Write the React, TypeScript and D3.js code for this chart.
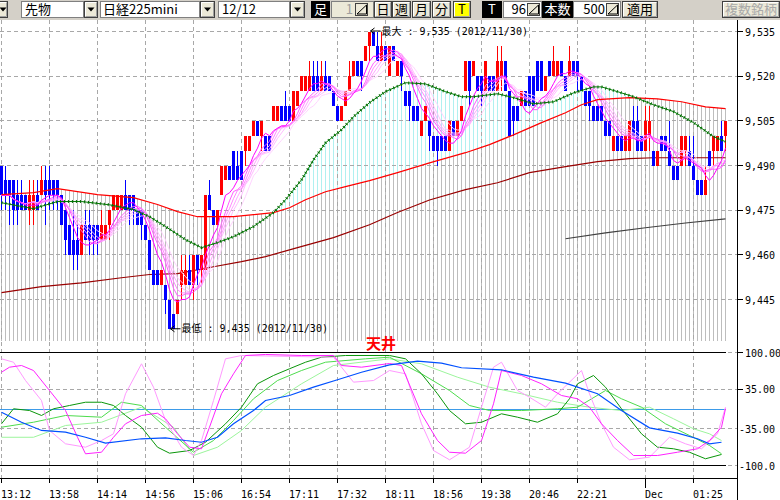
import React from "react";
import * as d3 from "d3";

// tick bars (96 ticks per bar)
const opens = [
  9490, 9485, 9485, 9485, 9480, 9480, 9480, 9475, 9475, 9480,
  9480, 9485, 9485, 9485, 9485, 9480, 9475, 9470, 9465, 9465,
  9460, 9470, 9470, 9470, 9470, 9465, 9465, 9470, 9475, 9475,
  9475, 9480, 9480, 9480, 9475, 9475, 9470, 9465, 9455, 9455,
  9450, 9450, 9445, 9440, 9440, 9450, 9450, 9455, 9450, 9460,
  9455, 9455, 9480, 9475, 9470, 9480, 9485, 9490, 9495, 9490,
  9495, 9495, 9495, 9500, 9505, 9500, 9500, 9500, 9505, 9505,
  9510, 9510, 9510, 9505, 9510, 9515, 9515, 9515, 9520, 9520,
  9515, 9520, 9520, 9515, 9510, 9505, 9510, 9515, 9520, 9525,
  9525, 9525, 9530, 9535, 9530, 9525, 9530, 9520, 9530, 9520,
  9525, 9515, 9515, 9510, 9510, 9500, 9505, 9505, 9500, 9500,
  9500, 9500, 9495, 9505, 9500, 9505, 9515, 9525, 9520, 9520,
  9520, 9515, 9520, 9520, 9515, 9520, 9525, 9515, 9510, 9510,
  9510, 9515, 9520, 9520, 9525, 9525, 9515, 9525, 9520, 9520,
  9525, 9520, 9520, 9525, 9525, 9520, 9515, 9515, 9510, 9510,
  9510, 9505, 9505, 9495, 9500, 9500, 9495, 9495, 9505, 9505,
  9500, 9495, 9500, 9495, 9490, 9500, 9500, 9495, 9490, 9490,
  9490, 9495, 9495, 9490, 9485, 9485, 9480, 9495, 9495, 9495,
  9500, 9500,
];
const closes = [
  9480, 9480, 9480, 9475, 9475, 9475, 9475, 9480, 9480, 9475,
  9485, 9480, 9480, 9480, 9480, 9470, 9465, 9460, 9460, 9460,
  9470, 9465, 9465, 9465, 9465, 9470, 9470, 9475, 9480, 9480,
  9480, 9475, 9475, 9475, 9470, 9470, 9465, 9455, 9450, 9450,
  9455, 9445, 9435, 9435, 9445, 9455, 9455, 9450, 9460, 9455,
  9460, 9480, 9475, 9470, 9475, 9490, 9490, 9485, 9485, 9485,
  9485, 9500, 9500, 9505, 9500, 9505, 9495, 9495, 9510, 9510,
  9505, 9505, 9505, 9515, 9515, 9520, 9520, 9520, 9515, 9515,
  9520, 9515, 9515, 9510, 9505, 9510, 9515, 9520, 9525, 9520,
  9520, 9530, 9535, 9530, 9525, 9530, 9525, 9530, 9525, 9525,
  9520, 9510, 9510, 9505, 9505, 9505, 9510, 9500, 9495, 9495,
  9495, 9495, 9505, 9500, 9505, 9510, 9525, 9515, 9525, 9515,
  9515, 9525, 9515, 9515, 9525, 9525, 9515, 9500, 9505, 9505,
  9515, 9510, 9510, 9510, 9515, 9515, 9520, 9520, 9525, 9525,
  9520, 9515, 9525, 9520, 9520, 9515, 9510, 9510, 9505, 9505,
  9505, 9500, 9500, 9500, 9495, 9495, 9500, 9505, 9500, 9495,
  9495, 9505, 9505, 9490, 9495, 9495, 9495, 9490, 9485, 9485,
  9500, 9500, 9490, 9485, 9480, 9480, 9485, 9490, 9500, 9500,
  9495, 9505,
];
const highs = [
  9490, 9490, 9485, 9485, 9485, 9485, 9480, 9485, 9485, 9485,
  9490, 9490, 9490, 9485, 9485, 9480, 9475, 9470, 9475, 9470,
  9470, 9475, 9475, 9470, 9470, 9475, 9470, 9475, 9480, 9480,
  9480, 9485, 9480, 9480, 9475, 9475, 9470, 9465, 9455, 9455,
  9455, 9450, 9445, 9440, 9445, 9460, 9460, 9460, 9460, 9460,
  9460, 9480, 9485, 9475, 9475, 9490, 9490, 9490, 9495, 9495,
  9495, 9500, 9500, 9505, 9505, 9505, 9500, 9500, 9510, 9510,
  9510, 9515, 9510, 9515, 9515, 9520, 9520, 9525, 9525, 9525,
  9525, 9525, 9520, 9515, 9510, 9510, 9515, 9525, 9525, 9525,
  9525, 9530, 9535, 9535, 9535, 9535, 9530, 9530, 9530, 9525,
  9525, 9515, 9515, 9510, 9510, 9505, 9510, 9505, 9500, 9500,
  9500, 9500, 9505, 9505, 9505, 9510, 9525, 9525, 9525, 9520,
  9520, 9525, 9520, 9520, 9530, 9530, 9525, 9515, 9510, 9510,
  9515, 9515, 9520, 9520, 9525, 9525, 9520, 9525, 9530, 9525,
  9525, 9520, 9530, 9525, 9525, 9520, 9515, 9515, 9510, 9510,
  9510, 9505, 9505, 9500, 9500, 9500, 9500, 9505, 9510, 9510,
  9500, 9510, 9510, 9495, 9495, 9500, 9500, 9505, 9490, 9490,
  9500, 9500, 9500, 9500, 9485, 9485, 9490, 9495, 9500, 9500,
  9505, 9505,
];
const lows = [
  9475, 9475, 9470, 9470, 9470, 9475, 9475, 9470, 9470, 9475,
  9480, 9470, 9475, 9475, 9475, 9470, 9460, 9460, 9455, 9455,
  9460, 9465, 9460, 9460, 9460, 9465, 9465, 9465, 9475, 9475,
  9475, 9475, 9470, 9470, 9470, 9465, 9465, 9455, 9450, 9450,
  9450, 9440, 9435, 9435, 9440, 9445, 9450, 9450, 9445, 9450,
  9450, 9455, 9475, 9470, 9470, 9480, 9485, 9485, 9485, 9485,
  9485, 9490, 9495, 9500, 9500, 9495, 9495, 9495, 9505, 9505,
  9505, 9505, 9505, 9505, 9510, 9515, 9515, 9515, 9515, 9515,
  9515, 9515, 9515, 9510, 9505, 9505, 9510, 9515, 9520, 9520,
  9515, 9525, 9525, 9530, 9525, 9525, 9525, 9520, 9525, 9520,
  9515, 9510, 9505, 9505, 9505, 9500, 9505, 9495, 9495, 9490,
  9495, 9495, 9495, 9500, 9500, 9505, 9515, 9510, 9520, 9515,
  9510, 9515, 9515, 9515, 9515, 9515, 9515, 9500, 9500, 9505,
  9510, 9510, 9510, 9510, 9515, 9515, 9515, 9520, 9520, 9520,
  9520, 9515, 9520, 9520, 9515, 9515, 9510, 9505, 9505, 9505,
  9505, 9500, 9500, 9495, 9495, 9495, 9495, 9495, 9500, 9495,
  9495, 9495, 9495, 9490, 9490, 9495, 9495, 9490, 9485, 9485,
  9490, 9490, 9490, 9485, 9480, 9480, 9480, 9490, 9490, 9495,
  9495, 9495,
];

// moving averages: [bar index, price]
const midMa: [number, number][] = [
  [0, 9480.2], [8, 9480.9], [14, 9482.2], [24, 9480.2], [33, 9479.2], [39, 9476.9],
  [44, 9474.5], [49, 9472.8], [58, 9472.8], [63, 9473.5], [68, 9474.2], [72, 9475.8],
  [76, 9478.5], [81, 9481.2], [86, 9482.9], [92, 9484.9], [99, 9487.6], [107, 9490.9],
  [116, 9494.3], [122, 9497.0], [128, 9500.3], [135, 9504.4], [141, 9507.7], [145, 9510.4],
  [149, 9512.1], [157, 9512.8], [164, 9512.4], [170, 9511.4], [176, 9509.7], [181, 9509.1],
];
const longMa: [number, number][] = [
  [0, 9447.3], [10, 9449.3], [20, 9450.6], [30, 9452.3], [37, 9453.4], [44, 9453.7],
  [53, 9456.0], [60, 9457.7], [66, 9459.4], [74, 9462.4], [83, 9465.8], [92, 9470.1],
  [99, 9474.2], [107, 9478.4], [116, 9481.9], [124, 9484.2], [132, 9487.6], [141, 9489.6],
  [149, 9491.3], [157, 9492.3], [163, 9492.6], [181, 9492.6],
];
const extraMa: [number, number][] = [
  [141, 9465.4], [151, 9467.4], [161, 9469.1], [171, 9470.7], [181, 9472.1],
];
const greenMa: [number, number][] = [
  [0, 9477.5], [8, 9475.5], [14, 9477.9], [20, 9477.9], [27, 9476.8], [33, 9475.2],
  [37, 9472.8], [41, 9469.5], [46, 9465.1], [50, 9462.4], [54, 9464.1], [58, 9466.1],
  [63, 9469.5], [68, 9474.2], [71, 9478.5], [75, 9485.2], [78, 9491.9], [81, 9497.6],
  [85, 9502.0], [88, 9506.4], [92, 9511.1], [96, 9514.8], [101, 9517.8], [106, 9517.4],
  [111, 9514.8], [115, 9513.1], [118, 9513.1], [124, 9514.1], [128, 9512.8], [133, 9510.7],
  [138, 9511.4], [143, 9514.4], [148, 9516.4], [150, 9516.4], [154, 9514.8], [158, 9513.1],
  [163, 9510.4], [168, 9508.1], [173, 9504.4], [178, 9499.7], [181, 9498.0],
];

// short moving-average ribbon (periods of the pink lines, slowest first)
const ribbonPeriods = [13, 11, 10, 9, 8, 6];

// oscillator panel: [bar index, value]
const oscBlue: [number, number][] = [
  [0, -5.7], [5, -23.4], [10, -38], [16, -41], [21, -50], [26, -60.5], [35, -52.7],
  [41, -51], [46, -55.8], [50, -58.8], [54, -50], [58, -26.2], [63, -2.7], [66, 15],
  [72, 23.9], [78, 38.6], [84, 51.7], [90, 65.1], [97, 78.2], [104, 84.6], [110, 81.1],
  [115, 73], [125, 69.4], [133, 56.3], [141, 45.7], [149, 26.9], [155, -2.7],
  [162, -33.3], [169, -42.8], [174, -52.7], [177, -61.6], [180, -58.8],
];
const oscGreen: [number, number][] = [
  [0, -26.2], [3, 0.4], [7, -2.7], [10, -11.5], [13, 0.4], [17, 6.2], [21, 12], [25, 12],
  [28, 6.2], [31, -11.5], [35, -32.2], [39, -67.6], [42, -78.2], [47, -73.5], [51, -58.8],
  [56, -26.2], [60, 3.2], [64, 44.6], [68, 59.3], [72, 71.2], [76, 82.8], [80, 91.7],
  [86, 94.7], [97, 94.7], [101, 88.8], [105, 62.3], [109, 26.9], [112, -2.7], [116, -26.2],
  [120, -23.4], [125, -8.5], [129, -14.5], [134, -23.4], [139, -8.5], [142, 18.1],
  [144, 44.6], [148, 59.3], [151, 38.6], [155, 0.4], [160, -43.9], [164, -67.6],
  [168, -70.4], [172, -76.5], [176, -88.1], [180, -80.5],
];
const oscGreenMid: [number, number][] = [
  [0, -32.2], [8, -23.4], [16, -11.5], [25, -14.5], [30, 12], [35, 6.2], [41, -32.2],
  [48, -76.5], [53, -55.8], [58, -20.4], [63, 18.1], [69, 50.4], [75, 68.1], [81, 82.8],
  [91, 88.8], [97, 91.7], [105, 62.3], [112, 32.7], [117, 6.2], [122, -2.7], [130, -2.7],
  [139, 0.4], [144, 3.2], [151, 32.7], [155, 18.1], [160, 3.2], [166, -26.2], [172, -46.9],
  [177, -64.6], [180, -79.3],
];
const oscGreenPale: [number, number][] = [
  [0, -50], [8, -50], [16, -29.2], [25, -23.4], [35, 3.2], [43, -32.2], [48, -82.3],
  [54, -67.6], [60, -38], [66, 3.2], [75, 44.6], [83, 77], [97, 88.8], [105, 80],
  [114, 56.3], [122, 38.6], [130, 26.9], [139, 12], [147, 3.2], [155, -2.7], [162, 3.2],
  [168, -17.3], [173, -35], [177, -43.9], [180, -55.8],
];
const oscMagenta: [number, number][] = [
  [0, 65.1], [2, 74], [5, 77], [8, 68.1], [12, 32.7], [16, -2.7], [19, -50], [21, -79.3],
  [25, -76.5], [28, -50], [31, -26.2], [35, -11.5], [39, -7.4], [41, -17.3], [44, -43.9],
  [47, -67.6], [50, -70.4], [52, -32.2], [55, 26.9], [58, 62.3], [61, 94.7], [66, 96.5],
  [75, 94.7], [83, 94.7], [85, 77], [90, 74], [97, 80.5], [100, 77], [105, -8.5],
  [109, -55.8], [112, -76.5], [116, -78.2], [120, -55.8], [123, 9.2], [125, 68.1],
  [130, 59.3], [135, 44.6], [140, 23.9], [144, 18.1], [147, 3.2], [150, -26.2],
  [154, -55.8], [158, -82.3], [164, -82.3], [169, -76.5], [174, -70.4], [177, -55.8],
  [180, -32.2], [181, 0.4],
];
const oscPink: [number, number][] = [
  [0, 88.8], [3, 82.8], [6, 50.4], [10, 15], [12, -38], [16, -61.6], [21, -67.6],
  [25, -55.8], [28, -43.9], [31, 26.9], [35, 80], [38, 38.6], [41, -20.4], [45, -67.6],
  [48, -82.3], [50, -55.8], [53, 15], [56, 88.8], [60, 94.7], [83, 91.7], [88, 47.5],
  [93, 50.4], [97, 68.1], [101, 62.3], [105, -26.2], [108, -73.5], [112, -89.9],
  [117, -67.6], [120, 3.2], [123, 74], [125, 82.8], [129, 32.7], [132, 20.9], [136, 3.2],
  [139, 26.9], [145, 68.1], [147, 26.9], [150, -26.2], [153, -67.6], [157, -89.9],
  [162, -85.2], [167, -50], [171, -61.6], [175, -70.4], [179, -43.9], [181, 3.2],
];

const priceTicks = [9535, 9520, 9505, 9490, 9475, 9460, 9445];
const oscTicks = [100, 35, -35, -100];
const oscTickLabels = ["100.00", "35.00", "-35.00", "-100.0"];
const timeTickBars = [0, 12, 24, 36, 48, 60, 72, 84, 96, 108, 120, 132, 144, 161, 173];
const timeTickLabels = [
  "13:12", "13:58", "14:14", "14:56", "15:06", "16:54", "17:11", "17:32",
  "18:11", "18:56", "19:38", "20:46", "22:21", "Dec", "01:25",
];

const MONO = "'DejaVu Sans Mono', 'Noto Sans CJK JP', monospace";
const JP = "'Noto Sans CJK JP', sans-serif";

const plotRight = 737.5;
const priceTop = 20;
const priceBottom = 341;

const x = d3.scaleLinear().domain([0, 181]).range([1.5, 725.5]);
const y = d3.scaleLinear().domain([9445, 9535]).range([299.5, 31.5]);
const yo = d3.scaleLinear().domain([-100, 100]).range([465.5, 352.5]);

const sma = (vals: number[], n: number) =>
  vals.map((_, i) => d3.mean(vals.slice(Math.max(0, i - n + 1), i + 1)) as number);

const maLine = d3.line<[number, number]>().x((d) => x(d[0])).y((d) => y(d[1]));
const oscLine = d3.line<[number, number]>().x((d) => x(d[0])).y((d) => yo(d[1]));
const ribbonLine = d3.line<number>().x((_, i) => x(i)).y((v) => y(v));

// x accessor that pads the ends a little so end bars are not clipped in half
const padX = (d: [number, number], i: number, n: number) =>
  x(d[0]) + (i === 0 ? -3 : i === n - 1 ? 3 : 0);

const belowRed = d3
  .area<[number, number]>()
  .x((d, i) => padX(d, i, midMa.length))
  .y0(priceBottom)
  .y1((d) => y(d[1]));
const aboveRed = d3
  .area<[number, number]>()
  .x((d, i) => padX(d, i, midMa.length))
  .y0(priceTop)
  .y1((d) => y(d[1]));
const belowGreen = d3
  .area<[number, number]>()
  .x((d, i) => padX(d, i, greenMa.length))
  .y0(priceBottom)
  .y1((d) => y(d[1]));

const ribbonColors = ["#ffd4ff", "#ffbcff", "#ffa4ff", "#ff88ff", "#ff5cff", "#ff00ff"];

const Button = ({ x0, w, label, face = "#ece9d8", color = "#000" }: any) => (
  <g>
    <rect x={x0 + 0.5} y={1.5} width={w - 1} height={16} fill={face} stroke="#404040" />
    <path d={`M${x0 + 1.5},16.5V2.5H${x0 + w - 1.5}`} stroke="#fff" fill="none" />
    <path d={`M${x0 + 1.5},16.5H${x0 + w - 1.5}V2.5`} stroke="#a0a0a0" fill="none" />
    {label === "▼" ? (
      <path d={`M${x0 + w / 2 - 3.5},7.5h7l-3.5,4z`} fill="#000" />
    ) : (
      <text x={x0 + w / 2} y={14} textAnchor="middle" fontFamily={JP} fontSize={13} fill={color}>
        {label}
      </text>
    )}
  </g>
);

const Field = ({ x0, w, label, fill = "#fff", color = "#000", align = "start", tx }: any) => (
  <g>
    <rect x={x0 + 0.5} y={1.5} width={w - 1} height={16} fill={fill} stroke="#808080" />
    <text x={tx} y={14} textAnchor={align} fontFamily={JP} fontSize={13} fill={color}>
      {label}
    </text>
  </g>
);

const Spinner = ({ x0 }: any) => (
  <g>
    <rect x={x0 + 0.5} y={3.5} width={12} height={12} fill="#ece9d8" stroke="#404040" />
    <path d={`M${x0 + 2},14h9.5v-9z`} fill="none" stroke="#000" />
  </g>
);

const BlackTag = ({ x0, w, label }: any) => (
  <g>
    <rect x={x0} y={1} width={w} height={17} fill="#000" />
    <text x={x0 + w / 2} y={14} textAnchor="middle" fontFamily={JP} fontSize={13} fill="#fff">
      {label}
    </text>
  </g>
);

const Toolbar = () => (
  <g>
    <rect x={0} y={0} width={780} height={20} fill="#d4d0c8" />
    <Button x0={-2} w={10} label="▼" />
    <Field x0={21} w={63} label="先物" tx={25} />
    <Button x0={84} w={14} label="▼" />
    <Field x0={100} w={100} label="日経225mini" tx={103} />
    <Button x0={200} w={15} label="▼" />
    <Field x0={218} w={72} label="12/12" tx={222} />
    <Button x0={290} w={15} label="▼" />
    <BlackTag x0={311} w={19} label="足" />
    <Field x0={331} w={43} label="1" fill="#ece9d8" color="#a0a0a0" align="end" tx={353} />
    <Spinner x0={355} />
    <Button x0={374} w={18} label="日" />
    <Button x0={392} w={19} label="週" />
    <Button x0={412} w={19} label="月" />
    <Button x0={432} w={19} label="分" />
    <Button x0={453} w={18} label="T" face="#ffff00" />
    <BlackTag x0={482} w={20} label="T" />
    <Field x0={503} w={39} label="96" align="end" tx={526} />
    <Spinner x0={527} />
    <BlackTag x0={542} w={31} label="本数" />
    <Field x0={573} w={48} label="500" align="end" tx={605} />
    <Spinner x0={606} />
    <Button x0={622} w={36} label="適用" />
    <Button x0={722} w={58} label="複数銘柄" color="#a8a8a8" />
  </g>
);

// "←" pointer followed by the note text, placed at the extreme bar
const Note = ({ bar, price, label, dy }: any) => {
  const ax = x(bar) + 1;
  const ay = y(price) + dy - 3.5;
  return (
    <g>
      <path
        d={`M${ax + 10},${ay}H${ax}M${ax + 4},${ay - 3}L${ax},${ay}L${ax + 4},${ay + 3}`}
        fill="none"
        stroke="#000"
      />
      <text x={ax + 11} y={y(price) + dy} fontFamily={MONO} fontSize={10} fill="#000">
        {label}
      </text>
    </g>
  );
};

export default function App() {
  const bars = d3.range(opens.length);
  const ribbons = ribbonPeriods.map((n) => sma(closes, n));
  const gridX = timeTickBars.map((b) => x(b));

  return (
    <div>
      <style>{`body{margin:0;background:#fff}`}</style>
      <svg width={780} height={500} style={{ display: "block", background: "#fff" }}>
        <defs>
          <clipPath id="belowRed">
            <path d={belowRed(midMa) ?? ""} />
          </clipPath>
          <clipPath id="aboveRed">
            <path d={aboveRed(midMa) ?? ""} />
          </clipPath>
          <clipPath id="belowGreen">
            <path d={belowGreen(greenMa) ?? ""} />
          </clipPath>
          <clipPath id="pricePanel">
            <rect x={0} y={priceTop} width={plotRight} height={priceBottom - priceTop} />
          </clipPath>
        </defs>

        <Toolbar />

        {/* background bars */}
        <g clipPath="url(#belowRed)" shapeRendering="crispEdges">
          {bars.map((i) => (
            <line key={i} x1={x(i)} x2={x(i)} y1={priceTop} y2={priceBottom} stroke="#bdbdbd" />
          ))}
        </g>
        <g clipPath="url(#belowGreen)">
          <g clipPath="url(#aboveRed)" shapeRendering="crispEdges">
            {bars.map((i) => (
              <line key={i} x1={x(i)} x2={x(i)} y1={priceTop} y2={priceBottom} stroke="#b0f0f0" />
            ))}
          </g>
        </g>

        {/* grid */}
        <g stroke="#a8a8a8" strokeDasharray="4 3" shapeRendering="crispEdges">
          {priceTicks.map((p) => (
            <line key={p} x1={0} x2={plotRight} y1={y(p)} y2={y(p)} />
          ))}
          {oscTicks.map((v) => (
            <line key={v} x1={0} x2={plotRight} y1={yo(v)} y2={yo(v)} />
          ))}
          {gridX.map((gx, k) => (
            <line key={k} x1={gx} x2={gx} y1={priceTop} y2={478} />
          ))}
        </g>

        {/* price panel */}
        <g clipPath="url(#pricePanel)">
          <path d={maLine(longMa) ?? ""} fill="none" stroke="#990000" strokeWidth={1.2} />
          <path d={maLine(extraMa) ?? ""} fill="none" stroke="#404040" strokeWidth={1.2} />
          <g shapeRendering="crispEdges">
            {bars.map((i) => {
              const up = closes[i] >= opens[i];
              const col = up ? "#ff0000" : "#0000ff";
              const top = y(Math.max(opens[i], closes[i]));
              const bot = y(Math.min(opens[i], closes[i]));
              return (
                <g key={i}>
                  <line x1={x(i)} x2={x(i)} y1={y(highs[i])} y2={y(lows[i])} stroke={col} />
                  <rect x={x(i) - 1.5} y={top} width={3} height={Math.max(1, bot - top)} fill={col} />
                </g>
              );
            })}
          </g>
          {ribbons.map((r, k) => (
            <path key={k} d={ribbonLine(r) ?? ""} fill="none" stroke={ribbonColors[k]} strokeWidth={1} />
          ))}
          <path d={maLine(midMa) ?? ""} fill="none" stroke="#ff0000" strokeWidth={1.2} />
          <path d={maLine(greenMa) ?? ""} fill="none" stroke="#007a00" strokeWidth={1} />
          <path
            d={maLine(greenMa) ?? ""}
            fill="none"
            stroke="#006a00"
            strokeWidth={3}
            strokeDasharray="1 3"
          />
        </g>

        {/* annotations */}
        <Note bar={92} price={9535} dy={3} label="最大 : 9,535 (2012/11/30)" />
        <Note bar={42} price={9435} dy={3} label="最低 : 9,435 (2012/11/30)" />

        {/* oscillator panel */}
        <text x={366} y={349} fontFamily={JP} fontSize={15} fontWeight="bold" fill="#ff0000">
          天井
        </text>
        <g shapeRendering="crispEdges">
          <line x1={0} x2={x(181)} y1={yo(100)} y2={yo(100)} stroke="#000" strokeWidth={1.5} />
          <line x1={0} x2={x(181)} y1={yo(-100)} y2={yo(-100)} stroke="#000" strokeWidth={1.5} />
          <line x1={0} x2={x(181)} y1={yo(0)} y2={yo(0)} stroke="#3d9be9" />
        </g>
        <path d={oscLine(oscGreenPale) ?? ""} fill="none" stroke="#9cf59c" />
        <path d={oscLine(oscGreenMid) ?? ""} fill="none" stroke="#4ddc4d" />
        <path d={oscLine(oscGreen) ?? ""} fill="none" stroke="#0a960a" />
        <path d={oscLine(oscPink) ?? ""} fill="none" stroke="#ff99ff" />
        <path d={oscLine(oscMagenta) ?? ""} fill="none" stroke="#ff22ff" />
        <path d={oscLine(oscBlue) ?? ""} fill="none" stroke="#0050ff" strokeWidth={1.2} />

        {/* axes */}
        <g shapeRendering="crispEdges" stroke="#000">
          <line x1={plotRight} x2={plotRight} y1={priceTop} y2={500} />
          <line x1={0} x2={plotRight} y1={478.5} y2={478.5} />
          {priceTicks.map((p) => (
            <line key={p} x1={plotRight} x2={plotRight + 5} y1={y(p)} y2={y(p)} />
          ))}
          {oscTicks
            .filter((v) => v > 0)
            .map((v) => (
              <line key={v} x1={plotRight} x2={plotRight + 5} y1={yo(v)} y2={yo(v)} />
            ))}
          {gridX.map((gx, k) => (
            <line key={k} x1={gx} x2={gx} y1={478} y2={timeTickLabels[k] === "Dec" ? 488 : 483} />
          ))}
        </g>
        <g fontFamily={MONO} fontSize={10} fill="#000">
          {priceTicks.map((p) => (
            <text key={p} x={745} y={y(p) + 4}>
              {d3.format(",")(p)}
            </text>
          ))}
          {oscTicks.map((v, k) => (
            <text key={v} x={v < 0 ? 739 : 745} y={yo(v) + 4}>
              {oscTickLabels[k]}
            </text>
          ))}
          {gridX.map((gx, k) => (
            <text key={k} x={gx - 0.5} y={498}>
              {timeTickLabels[k]}
            </text>
          ))}
        </g>
      </svg>
    </div>
  );
}
